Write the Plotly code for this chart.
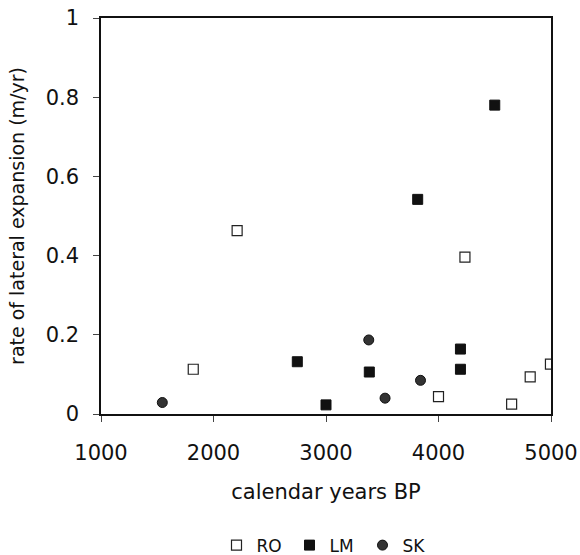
import plotly.graph_objects as go

ro_years = [1820, 2210, 4235, 4000, 4650, 4815, 4995]
ro_rate = [0.113, 0.463, 0.396, 0.044, 0.025, 0.094, 0.126]

lm_years = [2745, 3000, 3385, 3815, 4195, 4195, 4500]
lm_rate = [0.132, 0.023, 0.106, 0.542, 0.164, 0.113, 0.780]

sk_years = [1545, 3380, 3525, 3840]
sk_rate = [0.029, 0.187, 0.040, 0.085]

x_ticks = [1000, 2000, 3000, 4000, 5000]
y_ticks = [0, 0.2, 0.4, 0.6, 0.8, 1]
y_tick_labels = ["0", "0.2", "0.4", "0.6", "0.8", "1"]

FONT = "DejaVu Sans, Liberation Sans, Arial, sans-serif"

fig = go.Figure()
fig.add_trace(go.Scatter(x=ro_years, y=ro_rate, mode="markers", name="RO",
                         marker=dict(symbol="square", size=10, color="white",
                                     line=dict(color="#222", width=1.2))))
fig.add_trace(go.Scatter(x=lm_years, y=lm_rate, mode="markers", name="LM",
                         marker=dict(symbol="square", size=10, color="#111",
                                     line=dict(color="#111", width=1))))
fig.add_trace(go.Scatter(x=sk_years, y=sk_rate, mode="markers", name="SK",
                         marker=dict(symbol="circle", size=10, color="#333",
                                     line=dict(color="#111", width=1))))

axis_font = dict(family=FONT, size=21, color="#111")
fig.update_layout(
    template="none",
    width=580, height=555,
    margin=dict(l=101, r=29, t=18, b=141, autoexpand=False),
    paper_bgcolor="white", plot_bgcolor="white",
    font=dict(family=FONT, color="#111"),
    showlegend=True,
    legend=dict(orientation="h", x=0.5, xanchor="center", yref="container",
                y=0.017, yanchor="middle", font=dict(size=17, family=FONT),
                entrywidth=28, itemwidth=30),
    xaxis=dict(range=[1000, 5000], tickvals=x_ticks, ticks="outside", ticklen=6,
               ticklabelstandoff=13, ticklabeloverflow="allow",
               showline=True, linecolor="#111", linewidth=1.5, mirror=True,
               showgrid=False, zeroline=False, tickfont=axis_font, automargin=False,
               title=dict(text="calendar years BP", font=dict(size=21, family=FONT), standoff=20)),
    yaxis=dict(range=[0, 1], tickvals=y_ticks, ticktext=y_tick_labels, ticks="outside",
               ticklen=6, ticklabelstandoff=10, ticklabeloverflow="allow",
               showline=True, linecolor="#111", linewidth=1.5, mirror=True,
               showgrid=False, zeroline=False, tickfont=axis_font, automargin=False,
               title=dict(text="rate of lateral expansion (m/yr)", font=dict(size=19, family=FONT), standoff=16)),
)

fig.write_html("out.html")
